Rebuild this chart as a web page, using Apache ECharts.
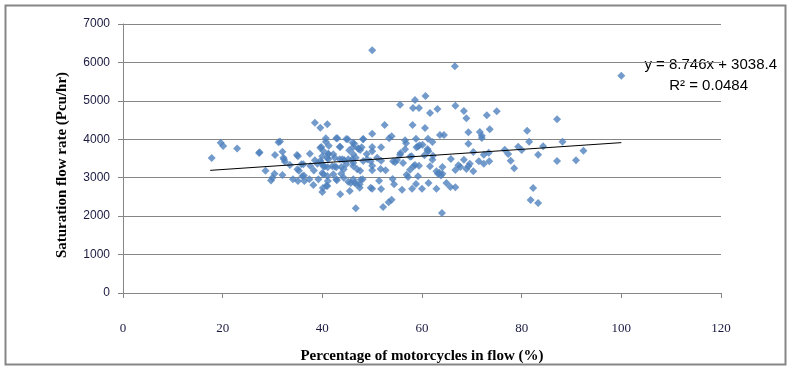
<!DOCTYPE html>
<html><head><meta charset="utf-8">
<script src="https://cdn.jsdelivr.net/npm/echarts@6/dist/echarts.min.js"></script>
<style>html,body{margin:0;padding:0;background:#fff}#c{width:789px;height:369px}</style>
</head><body><div id="c"></div>
<script>
const xTicks = [0, 20, 40, 60, 80, 100, 120];
const yTicks = [0, 1000, 2000, 3000, 4000, 5000, 6000, 7000];
const xTitle = 'Percentage of motorcycles in flow (%)';
const yTitle = 'Saturation flow rate (Pcu/hr)';
const slope = 8.746, intercept = 3038.4, r2 = '0.0484';
const trendRange = [17.5, 100];
const points = [
[17.8,3513],[19.6,3911],[20.1,3825],[22.9,3763],[27.3,3643],[27.4,3660],[28.6,3182],[29.7,2930],[30.0,3000],
[30.4,3105],[30.5,3591],[31.2,3920],[31.5,3940],[32.0,3677],[32.2,3520],[32.3,3480],[32.5,3417],[32.0,3070],[33.5,3330],[34.9,3591],[35.1,3560],[35.0,3220],[35.3,3180],[35.8,3350],[36.2,3350],[34.1,2957],[35.1,2914],[36.0,3040],[36.3,3060],[36.4,2914],[37.4,2957],[37.5,3625],[37.6,3305],[38.3,3190],[38.2,2810],[38.5,3452],[39.2,2957],[39.6,3781],[38.5,4432],[39.6,4302],[39.0,3365],[39.6,3443],
[41.0,4389],[40.7,4024],[40.7,3938],[43.0,4024],[45.1,3998],[46.1,3911],[48.2,3998],[46.2,3799],[43.6,3799],[45.4,3712],[47.2,3760],[47.6,3720],[47.9,3790],[46.2,3608],[39.8,3800],[40.2,3695],[41.2,3625],[42.2,3608],[41.0,3520],[41.2,3480],[42.5,3521],[43.5,3478],[44.0,3478],[44.4,3460],[45.2,3478],[46.0,3478],[46.7,3521],[49.0,3478],[46.2,3391],[39.8,3391],[40.5,3290],[41.1,3270],[42.0,3300],[42.5,3290],[42.8,3270],[43.8,3278],[44.3,3218],[44.8,3348],[46.2,3305],[47.0,3220],[47.6,3180],[48.2,3435],[40.2,3088],[40.0,3122],[41.0,3044],[42.2,3088],[42.8,2957],[43.8,3105],[44.3,3001],[45.2,2897],[46.2,2957],[46.5,2871],[47.5,2827],[48.1,2957],[41.0,2784],[40.1,2730],[40.0,2628],[43.6,2567],[45.5,2654],[47.5,2741],[49.7,2741],[46.7,2203],[40.0,3556],[40.2,3296],[40.8,2793],[41.1,2914],[42.9,2931],[45.7,2862],[46.8,2836],[47.7,2949],[48.9,3617],[49.7,3426],[50.0,3313],[50.0,3192],[50.0,2715],[50.0,3799],[50.0,3686],[50.0,4146],[50.0,6314],[48.2,4007],[44.8,4007],[42.8,4024],[41.3,3833],[41.2,3617],[43.5,3807],[46.4,3885],[47.3,3755],
[51.0,3521],[51.4,2923],[51.7,3226],[51.8,3440],[51.8,2706],[52.2,2238],[52.7,3192],[53.3,2359],[53.9,2428],[54.1,2966],[54.4,2827],[54.2,3426],[54.6,3400],[55.0,3460],[55.7,3643],[56.0,2689],[56.2,3382],[56.9,3079],[57.2,3018],[57.6,3547],[57.6,3209],[58.0,2715],[58.3,3296],[58.6,3330],[58.8,2836],[59.2,3036],[59.4,3313],[60.0,2715],[60.5,3582],[61.1,3703],[61.3,2862],[61.6,3296],[62.1,3469],[62.9,2715],[62.9,3166],[63.2,3100],[63.5,3130],[63.8,3060],[64.1,3100],[64.0,2082],[64.1,3278],[64.9,2862],[65.7,2758],[65.8,3487],[66.7,2749],[66.7,3200],[67.3,3322],[67.7,3278],[68.4,3469],[68.9,3226],[69.3,3296],[69.6,3365],[70.3,3166],[71.4,3426],
[51.8,3790],[52.5,4371],[53.4,4024],[53.9,4076],[55.6,4900],[58.2,4813],[58.6,5022],[59.4,4813],[60.7,5126],[61.6,4683],[63.1,4787],[58.1,4371],[60.6,4293],[63.6,4111],[64.4,4111],[66.6,5898],[66.7,4874],[68.4,4735],[68.9,4545],[69.3,4180],[69.3,3885],[70.3,3669],[71.6,4189],
[55.6,3600],[56.6,3972],[56.8,3900],[56.6,3738],[57.9,3556],[58.8,4016],[58.9,3790],[59.2,3810],[59.5,3842],[60.1,3859],[61.1,3747],[61.3,3690],[61.2,4016],[62.1,3929],[62.2,3573],
[100.0,5655],[73.0,4623],[75.0,4727],[72.0,4094],[72.0,4033],[73.6,4259],[72.4,3600],[72.4,3365],[73.4,3651],[73.5,3426],[76.6,3729],[77.3,3617],[77.8,3443],[78.5,3244],[79.3,3807],[80.0,3721],[81.1,4224],[81.5,3937],[82.3,2732],[81.8,2420],[83.3,2342],[83.3,3600],[84.3,3816],[87.1,4519],[87.1,3434],[88.2,3937],[90.9,3452],[92.4,3703]
];
const trend = trendRange.map(x => [x, slope * x + intercept]);

const chart = echarts.init(document.getElementById('c'), null, {renderer: 'canvas'});
const gridLine = '#868686';
chart.setOption({
  animation: false,
  backgroundColor: '#fff',
  grid: {left: 123, right: 68, top: 24, bottom: 76, containLabel: false},
  xAxis: {
    type: 'value', min: xTicks[0], max: xTicks[xTicks.length - 1], interval: 20,
    axisLine: {show: true, onZero: false, lineStyle: {color: gridLine, width: 1}},
    axisTick: {show: true, length: 5, lineStyle: {color: gridLine}},
    splitLine: {show: false},
    axisLabel: {margin: 29, fontFamily: 'Liberation Serif', fontSize: 13, color: '#1a1a40',
                formatter: v => String(v)},
    name: xTitle, nameLocation: 'middle', nameGap: 56,
    nameTextStyle: {fontFamily: 'Liberation Serif', fontWeight: 'bold', fontSize: 15, color: '#000'}
  },
  yAxis: {
    type: 'value', min: yTicks[0], max: yTicks[yTicks.length - 1], interval: 1000,
    axisLine: {show: true, lineStyle: {color: gridLine, width: 1}},
    axisTick: {show: true, length: 5, lineStyle: {color: gridLine}},
    splitLine: {show: true, lineStyle: {color: gridLine, width: 1}},
    axisLabel: {margin: 13, fontFamily: 'Liberation Sans', fontSize: 12, color: '#1a1a40',
                formatter: v => String(v)}
  },
  graphic: [
    {type: 'rect', left: 3, top: 3, shape: {width: 780, height: 359},
     style: {fill: 'none', stroke: '#868686', lineWidth: 2}, silent: true},
    {type: 'text', x: 62, y: 165, rotation: Math.PI / 2,
     style: {text: yTitle, fontFamily: 'Liberation Serif', fontWeight: 'bold', fontSize: 15,
             fill: '#000', textAlign: 'center', textVerticalAlign: 'middle'}},
    {type: 'text', x: 777, y: 65,
     style: {text: 'y = ' + slope + 'x + ' + intercept, fontFamily: 'Liberation Sans', fontSize: 15,
             fill: '#000', textAlign: 'right', textVerticalAlign: 'middle'}},
    {type: 'text', x: 748, y: 86,
     style: {text: 'R² = ' + r2, fontFamily: 'Liberation Sans', fontSize: 15,
             fill: '#000', textAlign: 'right', textVerticalAlign: 'middle'}}
  ],
  series: [
    {type: 'scatter', data: points, symbol: 'diamond', symbolSize: 8,
     itemStyle: {color: '#4F81BD'}, z: 3},
    {type: 'line', data: trend, symbol: 'none', lineStyle: {color: '#000', width: 1}, z: 4}
  ]
});
</script></body></html>
